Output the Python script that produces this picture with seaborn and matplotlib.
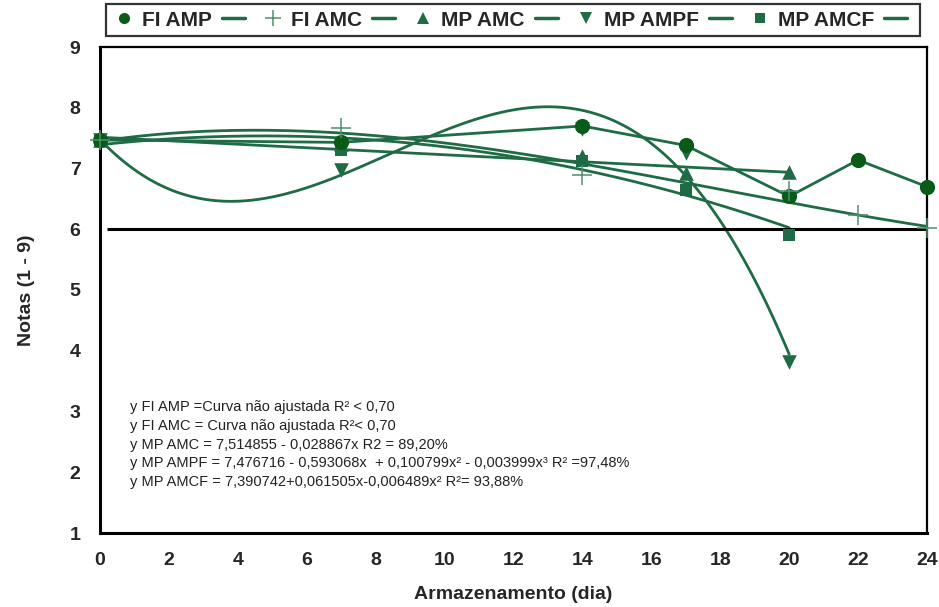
import numpy as np
import pandas as pd
import matplotlib
matplotlib.use("Agg")
import matplotlib.pyplot as plt
from matplotlib.lines import Line2D
from matplotlib.ticker import MultipleLocator
import seaborn as sns

# ---------------- data ----------------
days_fi_amp = [0, 7, 14, 17, 20, 22, 24]
fi_amp = [7.47, 7.43, 7.70, 7.38, 6.54, 7.14, 6.70]

days_fi_amc = [0, 7, 14, 20, 22, 24]
fi_amc = [7.47, 7.67, 6.89, 6.63, 6.23, 6.02]

days_mp = [0, 7, 14, 17, 20]
mp_amc = [7.47, 7.40, 7.20, 6.93, 6.94]
mp_ampf = [7.47, 6.97, 7.65, 7.25, 3.82]
mp_amcf = [7.45, 7.30, 7.12, 6.65, 5.91]

# fitted-curve coefficients (constant, x, x^2, x^3)
coef_mp_amc = [7.514855, -0.028867]
coef_mp_ampf = [7.476716, -0.593068, 0.100799, -0.003999]
coef_mp_amcf = [7.390742, 0.061505, -0.006489]
coef_fi_amc = [7.45, 0.084, -0.010664, 0.000197]   # trend drawn in the chart (estimated)

reference_level = 6.0

legend_labels = ["FI AMP", "FI AMC", "MP AMC", "MP AMPF", "MP AMCF"]
annotations = [
    "y FI AMP =Curva não ajustada R² < 0,70",
    "y FI AMC = Curva não ajustada R²< 0,70",
    "y MP AMC = 7,514855 - 0,028867x R2 = 89,20%",
    "y MP AMPF = 7,476716 - 0,593068x  + 0,100799x² - 0,003999x³ R² =97,48%",
    "y MP AMCF = 7,390742+0,061505x-0,006489x² R²= 93,88%",
]

# ---------------- style ----------------
sns.set_theme(style="white")
plt.rcParams["font.family"] = ["Liberation Sans", "DejaVu Sans"]
plt.rcParams["mathtext.default"] = "regular"

LINE = "#1e6b46"
DOT = "#0a5a18"
PLUS = "#4f8f6c"

fig = plt.figure(figsize=(9.39, 6.07), dpi=100)
ax = fig.add_axes([100 / 939, 1 - 533 / 607, 827 / 939, 486 / 607])


def poly(coef, x):
    x = np.asarray(x, dtype=float)
    return sum(c * x ** i for i, c in enumerate(coef))


def curve_df(coef, xmax):
    xs = np.linspace(0, xmax, 300)
    return pd.DataFrame({"x": xs, "y": poly(coef, xs)})


lw = 2.0
# fitted curves
for coef, xmax in [(coef_fi_amc, 24), (coef_mp_amc, 20), (coef_mp_ampf, 20), (coef_mp_amcf, 20)]:
    d = curve_df(coef, xmax)
    sns.lineplot(data=d, x="x", y="y", ax=ax, color=LINE, lw=lw, sort=False, zorder=3)

# FI AMP polyline (not fitted)
df_fi_amp = pd.DataFrame({"x": days_fi_amp, "y": fi_amp})
sns.lineplot(data=df_fi_amp, x="x", y="y", ax=ax, color=LINE, lw=lw, zorder=3)

# reference line at 6
ax.hlines(reference_level, 0.2, 24, color="black", lw=2.2, zorder=4)

# markers
sns.scatterplot(x=days_fi_amp, y=fi_amp, ax=ax, marker="o", s=120, color=DOT,
                edgecolor=DOT, linewidth=0, zorder=6, clip_on=False)
sns.scatterplot(x=days_fi_amc, y=fi_amc, ax=ax, marker="+", s=200, color=PLUS,
                linewidth=1.1, zorder=6, clip_on=False)
sns.scatterplot(x=days_mp, y=mp_amc, ax=ax, marker="^", s=110, color=LINE,
                edgecolor=LINE, linewidth=0, zorder=5, clip_on=False)
sns.scatterplot(x=days_mp, y=mp_ampf, ax=ax, marker="v", s=110, color=LINE,
                edgecolor=LINE, linewidth=0, zorder=5, clip_on=False)
sns.scatterplot(x=days_mp, y=mp_amcf, ax=ax, marker="s", s=75, color=LINE,
                edgecolor=LINE, linewidth=0, zorder=5, clip_on=False)

# axes
ax.set_xlim(0, 24)
ax.set_ylim(1, 9)
ax.xaxis.set_major_locator(MultipleLocator(2))
ax.xaxis.set_minor_locator(MultipleLocator(0.5))
ax.yaxis.set_major_locator(MultipleLocator(1))
ax.yaxis.set_minor_locator(MultipleLocator(0.2))
ax.tick_params(which="both", direction="in", top=False, right=False)
ax.tick_params(axis="y", which="major", length=10, width=1.2, color="#7a7a7a",
               labelsize=14, pad=14)
ax.tick_params(axis="y", which="minor", length=5, width=1.2, color="black")
ax.tick_params(axis="x", which="major", length=10, width=1.2, color="#555555",
               labelsize=14, pad=14)
ax.tick_params(axis="x", which="minor", length=5, width=1.0, color="#555555")
for lab in ax.get_xticklabels() + ax.get_yticklabels():
    lab.set_fontweight("bold")

for side in ["left", "bottom"]:
    ax.spines[side].set_linewidth(2.2)
    ax.spines[side].set_color("black")
for side in ["top", "right"]:
    ax.spines[side].set_linewidth(1.6)
    ax.spines[side].set_color("black")

ax.set_xlabel("Armazenamento (dia)", fontsize=14, fontweight="bold", labelpad=12)
ax.set_ylabel("Notas (1 - 9)", fontsize=14, fontweight="bold", labelpad=25)

# equations
for i, t in enumerate(annotations):
    ax.text(0.87, 3.07 - i * 0.3075, t, fontsize=10.5, color="#222222",
            va="center", ha="left", zorder=7)

# legend
markers = [("o", DOT, 8), ("+", PLUS, 12), ("^", LINE, 8), ("v", LINE, 8), ("s", LINE, 7)]
handles, labels = [], []
for (m, c, ms), lab in zip(markers, legend_labels):
    handles.append(Line2D([], [], ls="none", marker=m, color=c, markersize=ms,
                          markeredgewidth=1.1 if m == "+" else 0))
    labels.append(lab)
    handles.append(Line2D([], [], color=LINE, lw=2.5))
    labels.append("")
leg = fig.legend(handles, labels, ncol=10, loc="center",
                 bbox_to_anchor=(513 / 939, 1 - 20 / 607),
                 frameon=True, fancybox=False, edgecolor="black",
                 prop={"weight": "bold", "size": 15},
                 handlelength=1.1, handletextpad=0.3, columnspacing=0.5,
                 borderpad=0.3)
leg.get_frame().set_linewidth(1.6)

fig.savefig("out.png", dpi=100)
